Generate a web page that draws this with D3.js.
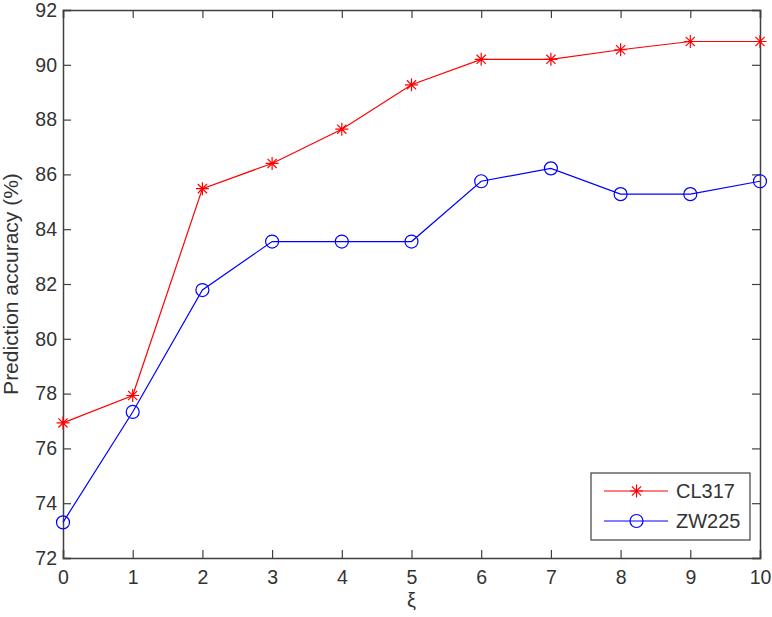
<!DOCTYPE html>
<html>
<head>
<meta charset="utf-8">
<script src="https://cdn.jsdelivr.net/npm/d3@7"></script>
<style>
  body { margin: 0; background: #fff; }
  text { font-family: Arial, "Liberation Sans", sans-serif; fill: #333; }
</style>
</head>
<body>
<div id="chart"></div>
<script>
const xValues = [0, 1, 2, 3, 4, 5, 6, 7, 8, 9, 10]
const cl317 = [76.93, 77.93, 85.48, 86.4, 87.65, 89.27, 90.2, 90.2, 90.55, 90.85, 90.85]
const zw225 = [73.3, 77.33, 81.78, 83.55, 83.55, 83.55, 85.75, 86.22, 85.28, 85.28, 85.75]
const yTicks = [72, 74, 76, 78, 80, 82, 84, 86, 88, 90, 92]
const seriesNames = ['CL317', 'ZW225']

const W = 772, H = 617
const plotLeft = 63, plotRight = 760, plotTop = 10, plotBottom = 558

const svg = d3.select('#chart').append('svg')
    .attr('width', W)
    .attr('height', H)

const xScale = d3.scaleLinear().domain([0, 10]).range([plotLeft, plotRight])
const yScale = d3.scaleLinear().domain([72, 92]).range([plotBottom, plotTop])

const axisColor = '#404040'

// axes, ticks pointing inward, mirrored on top and right
svg.append('g')
    .attr('transform', `translate(0,${plotBottom})`)
    .call(d3.axisBottom(xScale).tickValues(xValues).tickSize(-8).tickPadding(12).tickFormat(d3.format('d')))
svg.append('g')
    .attr('transform', `translate(0,${plotTop})`)
    .call(d3.axisTop(xScale).tickValues(xValues).tickSize(-8).tickFormat(''))
svg.append('g')
    .attr('transform', `translate(${plotLeft},0)`)
    .call(d3.axisLeft(yScale).tickValues(yTicks).tickSize(-8).tickPadding(6))
svg.append('g')
    .attr('transform', `translate(${plotRight},0)`)
    .call(d3.axisRight(yScale).tickValues(yTicks).tickSize(-8).tickFormat(''))

svg.selectAll('.domain').attr('stroke', axisColor).attr('stroke-width', 1.5)
svg.selectAll('.tick line').attr('stroke', axisColor).attr('stroke-width', 1.2)
svg.selectAll('.tick text')
    .style('font-size', '19.5px')
    .style('font-family', 'Arial, "Liberation Sans", sans-serif')
    .attr('fill', '#333')

// axis labels
svg.append('text')
    .attr('x', (plotLeft + plotRight) / 2)
    .attr('y', 607)
    .attr('text-anchor', 'middle')
    .style('font-size', '20px')
    .text('ξ')

svg.append('text')
    .attr('transform', `translate(18, ${(plotTop + plotBottom) / 2}) rotate(-90)`)
    .attr('text-anchor', 'middle')
    .style('font-size', '21px')
    .text('Prediction accuracy (%)')

const line = d3.line()
    .x((d, i) => xScale(xValues[i]))
    .y(d => yScale(d))

function drawStar(g, x, y, color) {
    const s = 6.5, d = 4.6
    g.append('path')
        .attr('d', `M${x - s},${y}H${x + s}M${x},${y - s}V${y + s}M${x - d},${y - d}L${x + d},${y + d}M${x - d},${y + d}L${x + d},${y - d}`)
        .attr('stroke', color)
        .attr('stroke-width', 1.2)
        .attr('fill', 'none')
}
function drawCircle(g, x, y, color) {
    g.append('circle')
        .attr('cx', x).attr('cy', y).attr('r', 6.5)
        .attr('stroke', color)
        .attr('stroke-width', 1.2)
        .attr('fill', 'none')
}

// CL317
svg.append('path')
    .datum(cl317)
    .attr('d', line)
    .attr('stroke', '#ff0000')
    .attr('stroke-width', 1.2)
    .attr('fill', 'none')
const gStars = svg.append('g')
cl317.forEach((v, i) => drawStar(gStars, xScale(xValues[i]), yScale(v), '#ff0000'))

// ZW225
svg.append('path')
    .datum(zw225)
    .attr('d', line)
    .attr('stroke', '#0000ff')
    .attr('stroke-width', 1.2)
    .attr('fill', 'none')
const gCircles = svg.append('g')
zw225.forEach((v, i) => drawCircle(gCircles, xScale(xValues[i]), yScale(v), '#0000ff'))

// legend
const legend = svg.append('g')
legend.append('rect')
    .attr('x', 591).attr('y', 473)
    .attr('width', 159).attr('height', 67)
    .attr('fill', '#fff')
    .attr('stroke', axisColor)
    .attr('stroke-width', 1.2)

const legendRows = [
    { name: seriesNames[0], color: '#ff0000', y: 491, marker: drawStar },
    { name: seriesNames[1], color: '#0000ff', y: 521, marker: drawCircle }
]
legendRows.forEach(r => {
    legend.append('line')
        .attr('x1', 604).attr('x2', 668)
        .attr('y1', r.y).attr('y2', r.y)
        .attr('stroke', r.color)
        .attr('stroke-width', 1.2)
    r.marker(legend, 636.5, r.y, r.color)
    legend.append('text')
        .attr('x', 676)
        .attr('y', r.y + 7)
        .style('font-size', '20px')
        .text(r.name)
})
</script>
</body>
</html>
